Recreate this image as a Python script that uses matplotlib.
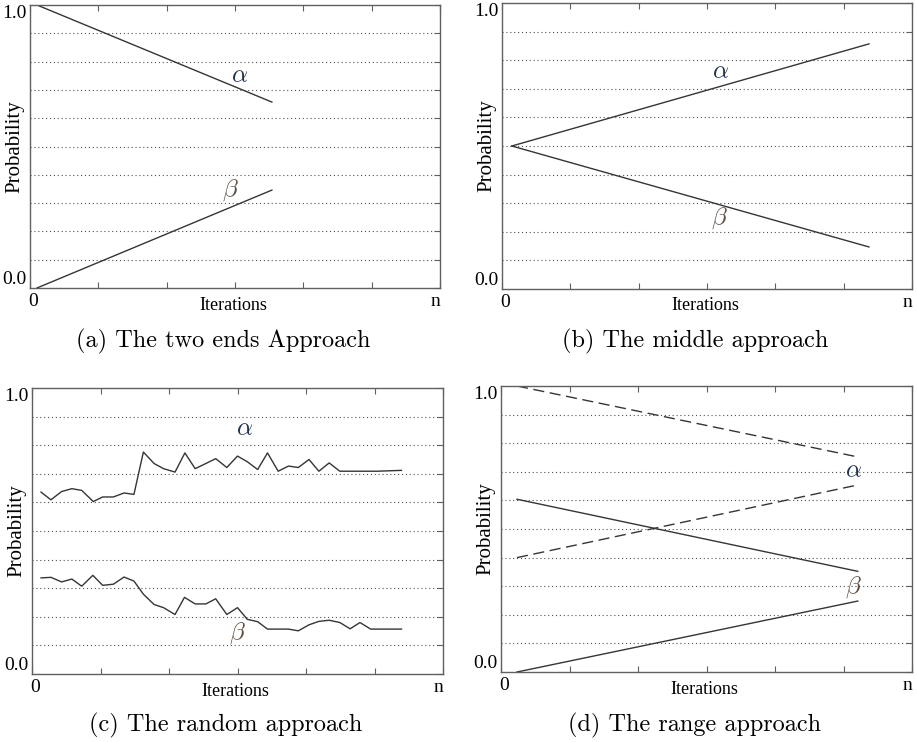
import numpy as np
import matplotlib
matplotlib.use("Agg")
import matplotlib.pyplot as plt

plt.rcParams['mathtext.fontset'] = 'cm'
plt.rcParams['font.family'] = ['Liberation Serif', 'DejaVu Serif']

# (a) the two ends approach
a_x = [0.017, 0.59]
a_alpha = [1.0, 0.657]
a_beta = [0.0, 0.346]

# (b) the middle approach
b_x = [0.024, 0.895]
b_alpha = [0.5, 0.857]
b_beta = [0.5, 0.147]

# (c) the random approach
c_alpha_x = [0.022, 0.046, 0.072, 0.097, 0.121, 0.149, 0.172, 0.198, 0.224, 0.248,
             0.271, 0.297, 0.320, 0.348, 0.372, 0.397, 0.423, 0.447, 0.474, 0.500,
             0.524, 0.549, 0.573, 0.599, 0.624, 0.648, 0.674, 0.698, 0.723, 0.749,
             0.839, 0.899]
c_alpha = [0.636, 0.609, 0.638, 0.648, 0.642, 0.603, 0.619, 0.619, 0.633, 0.628,
           0.776, 0.736, 0.718, 0.706, 0.773, 0.718, 0.736, 0.753, 0.722, 0.762,
           0.742, 0.715, 0.773, 0.709, 0.727, 0.722, 0.750, 0.709, 0.738, 0.709,
           0.709, 0.712]
c_beta_x = [0.022, 0.046, 0.072, 0.097, 0.121, 0.148, 0.172, 0.198, 0.224, 0.248,
            0.271, 0.297, 0.320, 0.348, 0.371, 0.397, 0.423, 0.447, 0.474, 0.500,
            0.524, 0.549, 0.573, 0.624, 0.648, 0.674, 0.698, 0.723, 0.749, 0.774,
            0.798, 0.824, 0.899]
c_beta = [0.336, 0.338, 0.322, 0.332, 0.307, 0.345, 0.310, 0.314, 0.339, 0.325,
          0.279, 0.243, 0.232, 0.208, 0.268, 0.245, 0.245, 0.263, 0.208, 0.232,
          0.191, 0.183, 0.157, 0.157, 0.151, 0.172, 0.184, 0.188, 0.180, 0.158,
          0.180, 0.157, 0.157]

# (d) the range approach
d_x = [0.039, 0.868]
d_alpha_hi = [1.0, 0.752]
d_alpha_lo = [0.40, 0.654]
d_beta_hi = [0.604, 0.352]
d_beta_lo = [0.0, 0.248]

captions = ["(a) The two ends Approach", "(b) The middle approach",
            "(c) The random approach", "(d) The range approach"]
label_pos = {  # (x, y) of alpha and beta labels per panel
    0: ((0.512, 0.749), (0.488, 0.346)),
    1: ((0.533, 0.760), (0.530, 0.247)),
    2: ((0.517, 0.857), (0.500, 0.142)),
    3: ((0.858, 0.703), (0.858, 0.297)),
}

W, H = 917, 742
fig = plt.figure(figsize=(W / 100, H / 100), dpi=100)
boxes = [(30, 5, 410, 283), (502, 3, 410, 286), (32, 388, 411, 286), (501, 386, 411, 286)]
cap_y = [341, 341, 725, 725]

line_col = '#353535'
axes = []
for i, (l, t, w, h) in enumerate(boxes):
    ax = fig.add_axes([l / W, 1 - (t + h) / H, w / W, h / H])
    ax.set_xlim(0, 1)
    ax.set_ylim(0, 1)
    for s in ax.spines.values():
        s.set_color('#606060')
        s.set_linewidth(1.0)
    for g in np.arange(0.1, 1.0, 0.1):
        ax.axhline(g, color='#505050', lw=0.8, ls=(0, (1, 2.5)), zorder=0)
    ax.set_xticks(np.arange(0, 7) / 6)
    ax.set_xticklabels([])
    ax.set_yticks(np.arange(0, 11) / 10)
    ax.set_yticklabels([])
    ax.tick_params(axis='x', direction='in', top=True, bottom=True, length=4,
                   color='#606060')
    ax.tick_params(axis='y', direction='in', left=False, right=True, length=4,
                   color='#606060')
    ax.text(-0.008, 1.0, '1.0', transform=ax.transAxes, ha='right', va='top', fontsize=14)
    ax.text(-0.008, 0.0, '0.0', transform=ax.transAxes, ha='right', va='bottom', fontsize=14)
    ax.text(0.008, -14 / h, '0', transform=ax.transAxes, ha='center', va='center', fontsize=14)
    ax.text(0.988, -14 / h, 'n', transform=ax.transAxes, ha='center', va='center', fontsize=14)
    ax.text(0.495, -17 / h, 'Iterations', transform=ax.transAxes, ha='center', va='center',
            fontsize=13)
    ax.text(-15 / w, 0.5, 'Probability', transform=ax.transAxes, ha='center', va='center',
            rotation=90, fontsize=15)
    (ax_, ay_), (bx_, by_) = label_pos[i]
    ax.text(ax_, ay_, r'$\alpha$', ha='center', va='center', fontsize=18, color='#223550')
    ax.text(bx_, by_, r'$\beta$', ha='center', va='center', fontsize=18, color='#5e4e40')
    fig.text((l + w / 2 - 12) / W, 1 - cap_y[i] / H, captions[i], ha='center', va='center',
             fontsize=17.5, family=['cmr10', 'DejaVu Serif'])
    axes.append(ax)

axes[0].plot(a_x, a_alpha, color=line_col, lw=1.0)
axes[0].plot(a_x, a_beta, color=line_col, lw=1.0)
axes[1].plot(b_x, b_alpha, color=line_col, lw=1.0)
axes[1].plot(b_x, b_beta, color=line_col, lw=1.0)
axes[2].plot(c_alpha_x, c_alpha, color=line_col, lw=1.0)
axes[2].plot(c_beta_x, c_beta, color=line_col, lw=1.0)
axes[3].plot(d_x, d_alpha_hi, color=line_col, lw=1.0, ls=(0, (8, 4)))
axes[3].plot(d_x, d_alpha_lo, color=line_col, lw=1.0, ls=(0, (8, 4)))
axes[3].plot(d_x, d_beta_hi, color=line_col, lw=1.0)
axes[3].plot(d_x, d_beta_lo, color=line_col, lw=1.0)

fig.savefig('out.png', dpi=100)
